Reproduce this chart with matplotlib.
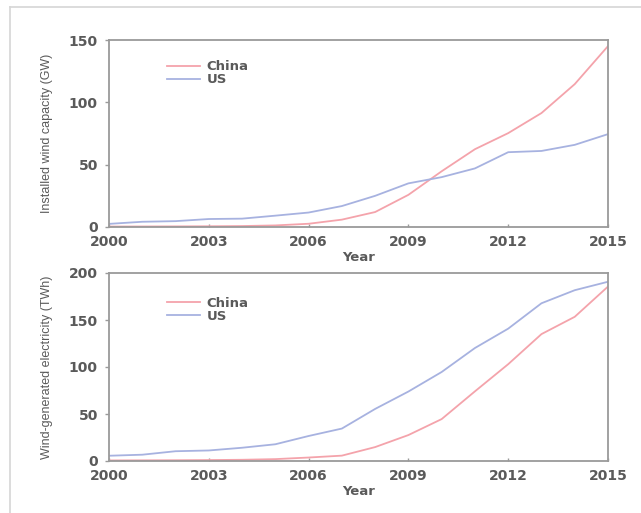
import matplotlib
matplotlib.use("Agg")
import matplotlib.pyplot as plt
from matplotlib.lines import Line2D

years = list(range(2000, 2016))

# Installed wind capacity (GW)
china_capacity = [0.35, 0.4, 0.47, 0.57, 0.76, 1.27, 2.6, 5.9, 12.0, 25.8, 44.7, 62.4, 75.3, 91.4, 114.6, 145.1]
us_capacity = [2.5, 4.2, 4.7, 6.4, 6.7, 9.1, 11.6, 16.8, 25.0, 35.0, 40.0, 47.0, 60.0, 61.0, 65.9, 74.5]

# Wind-generated electricity (TWh)
china_generation = [0.6, 0.7, 0.8, 1.0, 1.3, 2.0, 3.7, 5.7, 14.8, 27.6, 44.6, 74.1, 103.0, 135.0, 153.4, 185.6]
us_generation = [5.6, 6.7, 10.4, 11.2, 14.1, 17.8, 26.6, 34.5, 55.4, 73.9, 94.7, 120.2, 140.8, 167.8, 181.7, 190.7]

x_ticks = [2000, 2003, 2006, 2009, 2012, 2015]
top_yticks = [0, 50, 100, 150]
bottom_yticks = [0, 50, 100, 150, 200]

CHINA_COLOR = "#f4a3ab"
US_COLOR = "#a7b2e0"
SPINE_COLOR = "#9a9a9a"
TEXT_COLOR = "#5a5a5a"

fig = plt.figure(figsize=(6.41, 5.13), dpi=100)
W, H = 641, 513


def add_axes_px(left, top, right, bottom):
    return fig.add_axes([left / W, 1 - bottom / H, (right - left) / W, (bottom - top) / H])


ax1 = add_axes_px(109, 40, 608, 227)
ax2 = add_axes_px(109, 273, 608, 461)

label_font = dict(family=["Liberation Sans", "DejaVu Sans"], size=9, color=TEXT_COLOR)


def style(ax, yticks, ylabel, china, us, legend_y):
    ax.plot(years, china, color=CHINA_COLOR, lw=1.3, label="China")
    ax.plot(years, us, color=US_COLOR, lw=1.3, label="US")
    ax.set_xlim(2000, 2015)
    ax.set_ylim(yticks[0], yticks[-1])
    ax.set_xticks(x_ticks)
    ax.set_yticks(yticks)
    for s in ax.spines.values():
        s.set_color(SPINE_COLOR)
        s.set_linewidth(1.3)
    ax.tick_params(axis="x", direction="in", length=2, width=1, color=SPINE_COLOR,
                   labelsize=10, labelcolor=TEXT_COLOR, pad=6)
    ax.tick_params(axis="y", direction="out", length=3, width=1, color=SPINE_COLOR,
                   labelsize=10, labelcolor=TEXT_COLOR, pad=5)
    for lbl in ax.get_xticklabels() + ax.get_yticklabels():
        lbl.set_fontweight("semibold")
    ax.set_xlabel("Year", fontsize=9.5, color=TEXT_COLOR, fontweight="bold", labelpad=1)
    ax.set_ylabel(ylabel, fontdict=label_font)
    ax.yaxis.set_label_coords(-0.112, 0.5)
    leg = ax.legend(loc="upper left", bbox_to_anchor=(0.105, legend_y), frameon=False,
                    handlelength=2.5, handletextpad=0.5, labelspacing=0.0,
                    fontsize=9.5, borderaxespad=0)
    for t in leg.get_texts():
        t.set_color(TEXT_COLOR)
        t.set_fontweight("semibold")


style(ax1, top_yticks, "Installed wind capacity (GW)", china_capacity, us_capacity, 0.92)
style(ax2, bottom_yticks, "Wind-generated electricity (TWh)", china_generation, us_generation, 0.90)

# thin frame lines along the top and left of the figure
fig.add_artist(Line2D([10 / W, 1], [1 - 7 / H, 1 - 7 / H], color="#d6d6d6", lw=1.2,
                      transform=fig.transFigure))
fig.add_artist(Line2D([10 / W, 10 / W], [0, 1 - 7 / H], color="#d6d6d6", lw=1.2,
                      transform=fig.transFigure))

fig.savefig("out.png", dpi=100)
